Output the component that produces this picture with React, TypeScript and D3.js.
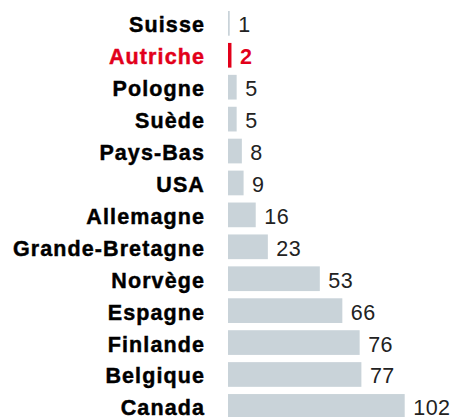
import React from "react";
import * as d3 from "d3";

const countries = [
  "Suisse", "Autriche", "Pologne", "Suède", "Pays-Bas", "USA", "Allemagne",
  "Grande-Bretagne", "Norvège", "Espagne", "Finlande", "Belgique", "Canada",
];
const values = [1, 2, 5, 5, 8, 9, 16, 23, 53, 66, 76, 77, 102];
const highlight = "Autriche";

const W = 452;
const H = 417;

export default function App() {
  const x = d3.scaleLinear().domain([0, 102]).range([228, 404.7]);
  const y = d3
    .scaleBand<string>()
    .domain(countries)
    .range([11, 11 + 13 * 31.92 - 7.2])
    .paddingInner(0.226)
    .paddingOuter(0);
  const grey = "#c9d3d9";
  const red = "#e2001a";
  return (
    <svg
      width={W}
      height={H}
      style={{ position: "absolute", left: 0, top: 0, background: "#fff" }}
    >
      {countries.map((c, i) => {
        const yy = y(c)!;
        const bw = y.bandwidth();
        const isH = c === highlight;
        const cy = yy + bw / 2;
        const col = isH ? red : "#000";
        return (
          <g key={c}>
            <rect
              x={x(0)}
              y={yy}
              width={x(values[i]) - x(0)}
              height={bw}
              fill={isH ? red : grey}
            />
            <text
              x={205}
              y={cy + 9}
              textAnchor="end"
              fontFamily="'Liberation Sans', Arial, sans-serif"
              fontWeight="bold"
              fontSize={21.5}
              letterSpacing={1.1}
              fill={col}
              stroke={col}
              strokeWidth={0.45}
            >
              {c}
            </text>
            <text
              x={x(values[i]) + 8.5}
              y={cy + 9}
              textAnchor="start"
              fontFamily="'Liberation Sans', Arial, sans-serif"
              fontWeight={isH ? "bold" : "normal"}
              fontSize={21.5}
              letterSpacing={0.5}
              fill={isH ? red : "#222"}
            >
              {values[i]}
            </text>
          </g>
        );
      })}
    </svg>
  );
}
